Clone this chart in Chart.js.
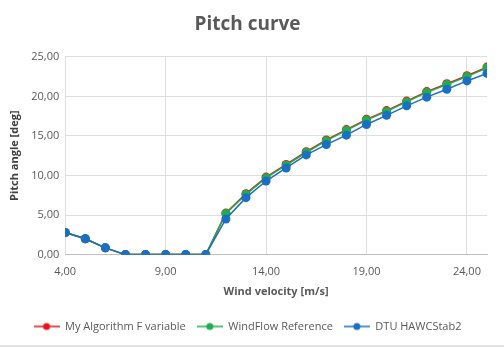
<!DOCTYPE html>
<html>
<head>
<meta charset="utf-8">
<script src="https://cdn.jsdelivr.net/npm/chart.js@4/dist/chart.umd.min.js"></script>
<style>
  html, body { margin: 0; padding: 0; background: #fff; }
  #wrap { width: 504px; height: 345px; border-bottom: 2px solid #e3e3e3; }
</style>
</head>
<body>
<div id="wrap"><canvas id="pitchChart" width="504" height="345"></canvas></div>
<script>
// wind speeds [m/s]
const windSpeed = [4, 5, 6, 7, 8, 9, 10, 11, 12, 13, 14, 15, 16, 17, 18, 19, 20, 21, 22, 23, 24, 25];

// pitch angle [deg] per source
const myAlgorithm = [2.8, 2.0, 0.85, 0, 0, 0, 0, 0, 5.25, 7.7, 9.8, 11.4, 13.0, 14.5, 15.8, 17.1, 18.2, 19.4, 20.6, 21.6, 22.6, 23.7];
const windFlowRef = [2.8, 2.0, 0.85, 0, 0, 0, 0, 0, 5.2, 7.6, 9.7, 11.3, 12.9, 14.4, 15.7, 17.0, 18.1, 19.3, 20.5, 21.5, 22.5, 23.6];
const dtuHawc = [2.8, 2.0, 0.85, 0, 0, 0, 0, 0, 4.5, 7.2, 9.3, 10.95, 12.6, 13.9, 15.1, 16.45, 17.6, 18.8, 19.9, 20.9, 21.95, 22.9];

const xTicks = [4, 9, 14, 19, 24];
const yTicks = [0, 5, 10, 15, 20, 25];

const seriesNames = ["My Algorithm F variable", "WindFlow Reference", "DTU HAWCStab2"];
const seriesColors = ["#e8141b", "#1fae4b", "#1a6fc4"];

const fmt = v => v.toFixed(2).replace(".", ",");

// little line-with-dot swatch for the legend
function swatch(color) {
    const c = document.createElement("canvas");
    c.width = 26;
    c.height = 10;
    const g = c.getContext("2d");
    g.strokeStyle = color;
    g.lineWidth = 1.5;
    g.beginPath();
    g.moveTo(0, 5);
    g.lineTo(26, 5);
    g.stroke();
    g.fillStyle = color;
    g.beginPath();
    g.arc(13, 5, 3.5, 0, Math.PI * 2);
    g.fill();
    return c;
}

// later series sit on top (blue over green over red)
const makeSet = (i, values) => ({
    label: seriesNames[i],
    data: windSpeed.map((x, k) => ({ x: x, y: values[k] })),
    borderColor: seriesColors[i],
    backgroundColor: seriesColors[i],
    borderWidth: 1.5,
    pointRadius: 4.5,
    pointHoverRadius: 4.5,
    pointBorderWidth: 0,
    tension: 0,
    order: 3 - i
});

const ctx =
    document
        .getElementById(
            "pitchChart"
        );

const tickFont = { family: "'Open Sans', sans-serif", size: 11 };
const titleFont = { family: "'Open Sans', sans-serif", size: 11, weight: "bold" };

new Chart(ctx, {

    type: "line",

    data: {
        datasets: [
            makeSet(0, myAlgorithm),
            makeSet(1, windFlowRef),
            makeSet(2, dtuHawc)
        ]
    },

    options: {

        responsive: false,
        animation: false,
        layout: { padding: { left: 8, right: 17, top: 4, bottom: 3 } },

        scales: {

            x: {
                type: "linear",
                min: 4,
                max: 25,
                afterBuildTicks: axis => {
                    axis.ticks = xTicks.map(v => ({ value: v }));
                },
                ticks: {
                    color: "#595959",
                    font: tickFont,
                    padding: 11,
                    callback: v => fmt(v),
                    maxRotation: 0
                },
                grid: { color: "#dedede", lineWidth: 1, drawTicks: false },
                border: { color: "#bfbfbf" },
                title: {
                    display: true,
                    text: "Wind velocity [m/s]",
                    color: "#595959",
                    font: titleFont,
                    padding: { top: -5, bottom: 12 }
                }
            },

            y: {
                min: 0,
                max: 25,
                afterBuildTicks: axis => {
                    axis.ticks = yTicks.map(v => ({ value: v }));
                },
                ticks: {
                    color: "#595959",
                    font: tickFont,
                    padding: 6,
                    callback: v => fmt(v)
                },
                grid: { color: "#dedede", lineWidth: 1, drawTicks: false },
                border: { display: false },
                title: {
                    display: true,
                    text: "Pitch angle [deg]",
                    color: "#404040",
                    font: titleFont,
                    padding: { top: 0, bottom: 4 }
                }
            }

        },

        plugins: {

            title: {
                display: true,
                text: "Pitch curve",
                color: "#595959",
                font: { family: "'Open Sans', sans-serif", size: 19, weight: "bold" },
                padding: { top: 9, bottom: 21 }
            },

            legend: {
                position: "bottom",
                labels: {
                    color: "#595959",
                    font: tickFont,
                    usePointStyle: true,
                    pointStyleWidth: 26,
                    padding: 11,
                    generateLabels: chart => chart.data.datasets.map((ds, i) => ({
                        text: ds.label,
                        fontColor: "#595959",
                        pointStyle: swatch(ds.borderColor),
                        fillStyle: ds.borderColor,
                        strokeStyle: ds.borderColor,
                        lineWidth: 0,
                        datasetIndex: i,
                        hidden: false
                    }))
                }
            },

            tooltip: { enabled: false }

        }

    }

});
</script>
</body>
</html>
